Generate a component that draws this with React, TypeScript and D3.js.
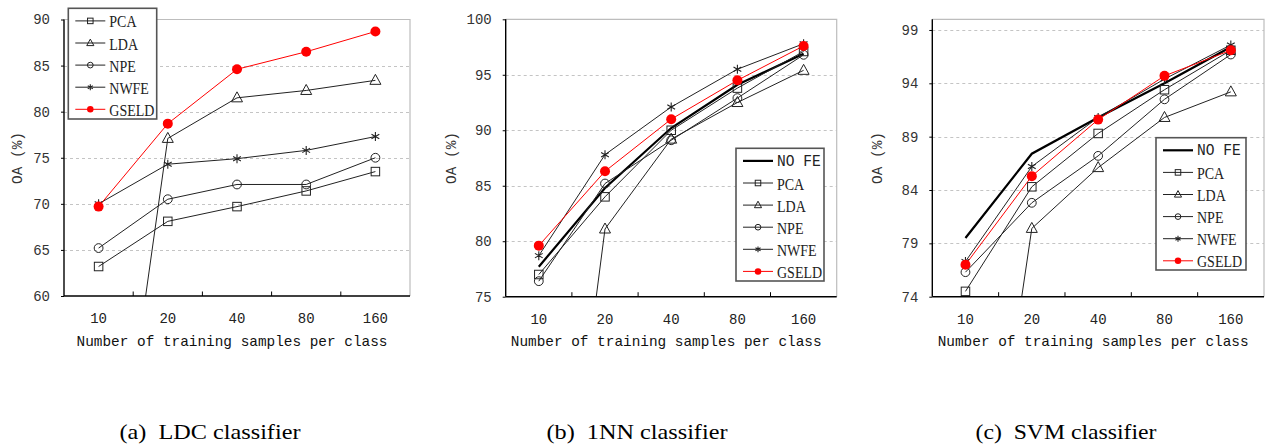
import React, { useEffect, useRef } from 'react';
import * as d3 from 'd3';

// categories on the x axis
const xLabels = ['10', '20', '40', '80', '160'];

// (a) LDC classifier
const ldcPCA = [63.2, 68.1, 69.7, 71.4, 73.5];
const ldcLDA = [23.7, 77.1, 81.5, 82.3, 83.4];
const ldcNPE = [65.2, 70.5, 72.1, 72.1, 75.0];
const ldcNWFE = [70.0, 74.3, 74.9, 75.8, 77.3];
const ldcGSELD = [69.7, 78.7, 84.6, 86.5, 88.7];

// (b) 1NN classifier
const nnNOFE = [77.7, 84.8, 90.2, 94.1, 96.9];
const nnPCA = [77.0, 84.0, 90.0, 93.8, 97.1];
const nnLDA = [34.9, 81.1, 89.2, 92.5, 95.4];
const nnNPE = [76.4, 85.2, 89.1, 92.9, 96.8];
const nnNWFE = [78.7, 87.8, 92.1, 95.5, 97.8];
const nnGSELD = [79.6, 86.3, 91.0, 94.5, 97.6];

// (c) SVM classifier
const svmNOFE = [79.5, 87.4, 90.8, 94.0, 97.4];
const svmPCA = [74.5, 84.3, 89.3, 93.4, 97.1];
const svmLDA = [38.2, 80.4, 86.1, 90.8, 93.2];
const svmNPE = [76.3, 82.8, 87.2, 92.5, 96.7];
const svmNWFE = [77.3, 86.2, 90.8, 94.4, 97.6];
const svmGSELD = [77.0, 85.3, 90.6, 94.7, 97.1];

// y ticks per panel
const ldcTicks = [60, 65, 70, 75, 80, 85, 90];
const nnTicks = [75, 80, 85, 90, 95, 100];
const svmTicks = [74, 79, 84, 89, 94, 99];

const captions = ['(a)  LDC classifier', '(b)  1NN classifier', '(c)  SVM classifier'];
const xTitle = 'Number of training samples per class';
const yTitle = 'OA (%)';

const MONO = '"Liberation Mono", "DejaVu Sans Mono", monospace';
const SERIF = '"Liberation Serif", "Times New Roman", serif';

type Series = { name: string; values: number[]; marker: string; color: string; width: number };

const mk = (name: string, values: number[]): Series => {
    if (name === 'NO FE') return { name, values, marker: 'none', color: '#000', width: 2.2 };
    if (name === 'GSELD') return { name, values, marker: 'dot', color: '#ff0000', width: 1 };
    const m: Record<string, string> = { PCA: 'square', LDA: 'triangle', NPE: 'circle', NWFE: 'star' };
    return { name, values, marker: m[name], color: '#222', width: 1 };
};

const panels = [
    {
        box: { left: 64, right: 410, top: 19.5, bottom: 296 },
        domain: [60, 90], ticks: ldcTicks, yTitleX: 18, caption: captions[0], capX: 210,
        legend: { x: 68.3, y: 8.3, w: 88.4, h: 110.7 },
        series: [mk('PCA', ldcPCA), mk('LDA', ldcLDA), mk('NPE', ldcNPE), mk('NWFE', ldcNWFE), mk('GSELD', ldcGSELD)],
    },
    {
        box: { left: 505.7, right: 836.7, top: 19.3, bottom: 296.7 },
        domain: [75, 100], ticks: nnTicks, yTitleX: 452, caption: captions[1], capX: 637,
        legend: { x: 736, y: 148.3, w: 88, h: 132.7 },
        series: [mk('NO FE', nnNOFE), mk('PCA', nnPCA), mk('LDA', nnLDA), mk('NPE', nnNPE), mk('NWFE', nnNWFE), mk('GSELD', nnGSELD)],
    },
    {
        box: { left: 932.3, right: 1264, top: 19.3, bottom: 296.7 },
        domain: [74, 100], ticks: svmTicks, yTitleX: 878, caption: captions[2], capX: 1066,
        legend: { x: 1156, y: 137.7, w: 90, h: 132.3 },
        series: [mk('NO FE', svmNOFE), mk('PCA', svmPCA), mk('LDA', svmLDA), mk('NPE', svmNPE), mk('NWFE', svmNWFE), mk('GSELD', svmGSELD)],
    },
];

// draws one marker centred on (cx, cy); k scales it down for the legend
function drawMarker(g: any, type: string, cx: number, cy: number, k: number) {
    const stroke = '#222';
    if (type === 'square') {
        const s = 8.5 * k;
        g.append('rect').attr('x', cx - s / 2).attr('y', cy - s / 2).attr('width', s).attr('height', s)
            .attr('fill', 'none').attr('stroke', stroke).attr('stroke-width', 1);
    } else if (type === 'triangle') {
        const pts = [[0, -6], [-5.5, 4], [5.5, 4]].map(([a, b]) => `${cx + a * k},${cy + b * k}`).join(' ');
        g.append('polygon').attr('points', pts).attr('fill', 'none').attr('stroke', stroke).attr('stroke-width', 1);
    } else if (type === 'circle') {
        g.append('circle').attr('cx', cx).attr('cy', cy).attr('r', 4.4 * k)
            .attr('fill', 'none').attr('stroke', stroke).attr('stroke-width', 1);
    } else if (type === 'star') {
        const r = 4.5 * k;
        const c = Math.cos(Math.PI / 6) * r, s = Math.sin(Math.PI / 6) * r;
        g.append('path')
            .attr('d', `M${cx},${cy - r}L${cx},${cy + r}M${cx - c},${cy - s}L${cx + c},${cy + s}M${cx - c},${cy + s}L${cx + c},${cy - s}`)
            .attr('stroke', stroke).attr('stroke-width', 1.1).attr('fill', 'none');
    } else if (type === 'dot') {
        g.append('circle').attr('cx', cx).attr('cy', cy).attr('r', 5 * k).attr('fill', '#ff0000');
    }
}

const App: React.FC = () => {
    const svgRef = useRef<SVGSVGElement | null>(null);

    useEffect(() => {
        if (!svgRef.current) return;
        const svg = d3.select(svgRef.current);
        svg.selectAll('*').remove();

        panels.forEach((p, pi) => {
            const { box } = p;
            const g = svg.append('g');

            const x = d3.scaleBand().domain(xLabels).range([box.left, box.right]).padding(0);
            const y = d3.scaleLinear().domain(p.domain).range([box.bottom, box.top]);
            const cx = (lab: string) => x(lab)! + x.bandwidth() / 2;

            // dashed grid lines
            g.append('g').selectAll('line')
                .data(p.ticks.filter((t) => t > p.domain[0] && t < p.domain[1]))
                .enter().append('line')
                .attr('x1', box.left).attr('x2', box.right)
                .attr('y1', (d) => Math.round(y(d)) + 0.5).attr('y2', (d) => Math.round(y(d)) + 0.5)
                .attr('stroke', '#c4c4c4').attr('stroke-dasharray', '3,3');

            // grey frame top and right
            g.append('path')
                .attr('d', `M${box.left},${box.top}H${box.right}V${box.bottom}`)
                .attr('fill', 'none').attr('stroke', '#bdbdbd').attr('stroke-width', 1.2);

            // clip for series
            const clipId = `clip-${pi}`;
            svg.append('defs').append('clipPath').attr('id', clipId)
                .append('rect').attr('x', box.left).attr('y', box.top - 10)
                .attr('width', box.right - box.left + 10).attr('height', box.bottom - box.top + 10);

            const plot = g.append('g').attr('clip-path', `url(#${clipId})`);
            const line = d3.line<number>().x((d, i) => cx(xLabels[i])).y((d) => y(d));

            p.series.forEach((s) => {
                plot.append('path').attr('d', line(s.values)!)
                    .attr('fill', 'none').attr('stroke', s.color).attr('stroke-width', s.width);
            });
            p.series.forEach((s) => {
                s.values.forEach((v, i) => {
                    if (v < p.domain[0]) return;
                    drawMarker(plot, s.marker, cx(xLabels[i]), y(v), 1);
                });
            });

            // left axis
            const yAxis = d3.axisLeft(y).tickValues(p.ticks).tickSize(3).tickSizeOuter(0).tickPadding(11);
            const ya = g.append('g').attr('transform', `translate(${box.left},0)`).call(yAxis);
            ya.select('.domain').attr('stroke', '#000').attr('stroke-width', 1.4)
                .attr('d', `M0,${box.top}V${box.bottom}`);
            ya.selectAll('.tick line').attr('stroke', '#000');
            ya.selectAll('.tick text').attr('font-family', MONO).attr('font-size', 14).attr('fill', '#333');

            // bottom axis: labels at band centres, inner ticks at band edges
            const xAxis = d3.axisBottom(x).tickSize(0).tickPadding(17);
            const xa = g.append('g').attr('transform', `translate(0,${box.bottom})`).call(xAxis);
            xa.select('.domain').attr('stroke', '#000').attr('stroke-width', 1.4)
                .attr('d', `M${box.left},0H${box.right}`);
            xa.selectAll('.tick text').attr('font-family', MONO).attr('font-size', 14).attr('fill', '#222');
            g.append('g').selectAll('line').data(xLabels.slice(1)).enter().append('line')
                .attr('x1', (d) => x(d)!).attr('x2', (d) => x(d)!)
                .attr('y1', box.bottom).attr('y2', box.bottom - 4.5)
                .attr('stroke', '#000');

            // axis titles
            g.append('text').attr('x', (box.left + box.right) / 2 - 5).attr('y', 345.5)
                .attr('text-anchor', 'middle').attr('font-family', MONO).attr('font-size', 14.4)
                .attr('fill', '#111').text(xTitle);
            g.append('text').attr('transform', `translate(${p.yTitleX},158) rotate(-90)`)
                .attr('text-anchor', 'middle').attr('dominant-baseline', 'central')
                .attr('font-family', MONO).attr('font-size', 14.4).attr('fill', '#333')
                .attr('xml:space', 'preserve').text(yTitle);

            // legend
            const L = p.legend;
            const lg = g.append('g');
            lg.append('rect').attr('x', L.x).attr('y', L.y).attr('width', L.w).attr('height', L.h)
                .attr('fill', '#fff').attr('stroke', '#555').attr('stroke-width', 1.6);
            p.series.forEach((s, i) => {
                const ly = L.y + 12.6 + i * 22.1;
                lg.append('line').attr('x1', L.x + 7).attr('x2', L.x + 37).attr('y1', ly).attr('y2', ly)
                    .attr('stroke', s.color).attr('stroke-width', s.width);
                drawMarker(lg, s.marker, L.x + 22, ly, 0.65);
                const mono = s.name === 'NO FE';
                const sx = mono ? 0.9 : 0.8;
                lg.append('text')
                    .attr('transform', `translate(${L.x + 41},${ly + 0.5}) scale(${sx},1)`)
                    .attr('dominant-baseline', 'central')
                    .attr('font-family', mono ? MONO : SERIF)
                    .attr('font-size', mono ? 16.2 : 17.5)
                    .attr('fill', '#222').attr('xml:space', 'preserve').text(s.name);
            });

            // caption
            svg.append('text').attr('x', p.capX).attr('y', 439).attr('text-anchor', 'middle')
                .attr('font-family', SERIF).attr('font-size', 21).attr('fill', '#000')
                .attr('textLength', 181).attr('lengthAdjust', 'spacingAndGlyphs')
                .attr('xml:space', 'preserve').text(p.caption);
        });
    }, []);

    return (
        <svg ref={svgRef} width={1267} height={447}
            style={{ position: 'absolute', left: 0, top: 0, background: '#fff' }} />
    );
};

export default App;
